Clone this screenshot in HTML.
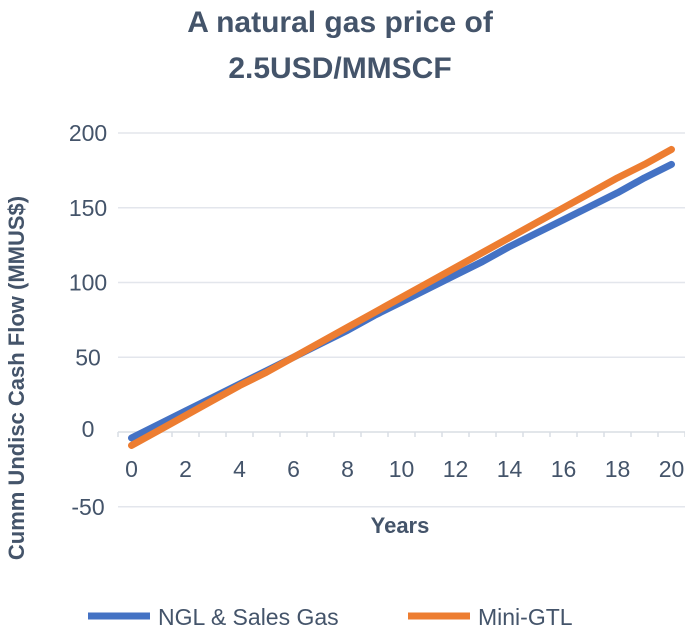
<!DOCTYPE html>
<html><head><meta charset="utf-8"><style>
body{margin:0;background:#fff;font-family:"Liberation Sans",sans-serif;}
</style></head><body>
<svg width="685" height="626" xmlns="http://www.w3.org/2000/svg">
<text x="340" y="32" text-anchor="middle" font-size="30" font-weight="bold" fill="#44546a">A natural gas price of</text>
<text x="340" y="78" text-anchor="middle" font-size="30" font-weight="bold" fill="#44546a">2.5USD/MMSCF</text>
<g id="grid"></g>
<g id="xaxis"></g>
<g id="series"></g>
<text transform="translate(24,378) rotate(-90)" text-anchor="middle" font-size="22" font-weight="bold" fill="#44546a">Cumm Undisc Cash Flow (MMUS$)</text>
<text x="400" y="533" text-anchor="middle" font-size="22" font-weight="bold" fill="#44546a">Years</text>
<g>
<line x1="88" y1="616" x2="150" y2="616" stroke="#4472c4" stroke-width="7"/>
<text x="158" y="625" font-size="23" fill="#44546a">NGL &amp; Sales Gas</text>
<line x1="408" y1="616" x2="470" y2="616" stroke="#ed7d31" stroke-width="7"/>
<text x="478" y="625" font-size="23" fill="#44546a">Mini-GTL</text>
</g>
</svg>
<script>
const years=[0,1,2,3,4,5,6,7,8,9,10,11,12,13,14,15,16,17,18,19,20];
const nglValues=[-4,5,14,23,32,41,50,59,68,78,87,96,105,114,124,133,142,151,160,170,179];
const gtlValues=[-9,1,11,21,31,40,50,60,70,80,90,100,110,120,130,140,150,160,170,179,189];
const yTicks=[-50,0,50,100,150,200];
const NS="http://www.w3.org/2000/svg";
const x0=118,bw=27,yZero=432,k=1.495;
const X=i=>x0+(i+0.5)*bw;
const Y=v=>yZero-v*k;
function mk(t,a){const e=document.createElementNS(NS,t);for(const n in a)e.setAttribute(n,a[n]);return e;}
const grid=document.getElementById('grid');
yTicks.forEach(v=>{
 if(v!==0){const l=mk('line',{x1:x0,x2:685,y1:Y(v),y2:Y(v),stroke:'#e3e6ec','stroke-width':1.5});
 
 grid.appendChild(l);}
 const t=mk('text',{x:x0-30,y:Y(v)+8-(v===0?3:0),'text-anchor':'middle','font-size':23,fill:'#44546a'});
 t.textContent=v;
 
 grid.appendChild(t);
});
const xa=document.getElementById('xaxis');
const ax=mk('line',{x1:x0,x2:685,y1:yZero,y2:yZero,stroke:'#d9dde4','stroke-width':1.5});

xa.appendChild(ax);
for(let i=0;i<=years.length;i++){const tk=mk('line',{x1:x0+i*bw,x2:x0+i*bw,y1:yZero,y2:yZero+5,stroke:'#d9dde4','stroke-width':1.5});
 
 xa.appendChild(tk);}
years.forEach((y,i)=>{if(y%2)return;const t=mk('text',{x:X(i),y:477,'text-anchor':'middle','font-size':23,fill:'#44546a'});
 t.textContent=y;
 
 xa.appendChild(t);});
const sg=document.getElementById('series');
[[nglValues,'#4472c4','line-ngl-sales-gas'],[gtlValues,'#ed7d31','line-mini-gtl']].forEach(([vals,c,n])=>{
 const p=mk('polyline',{points:vals.map((v,i)=>X(i)+','+Y(v)).join(' '),fill:'none',stroke:c,'stroke-width':7,'stroke-linecap':'round','stroke-linejoin':'round'});
 
 sg.appendChild(p);});
</script>
</body></html>
